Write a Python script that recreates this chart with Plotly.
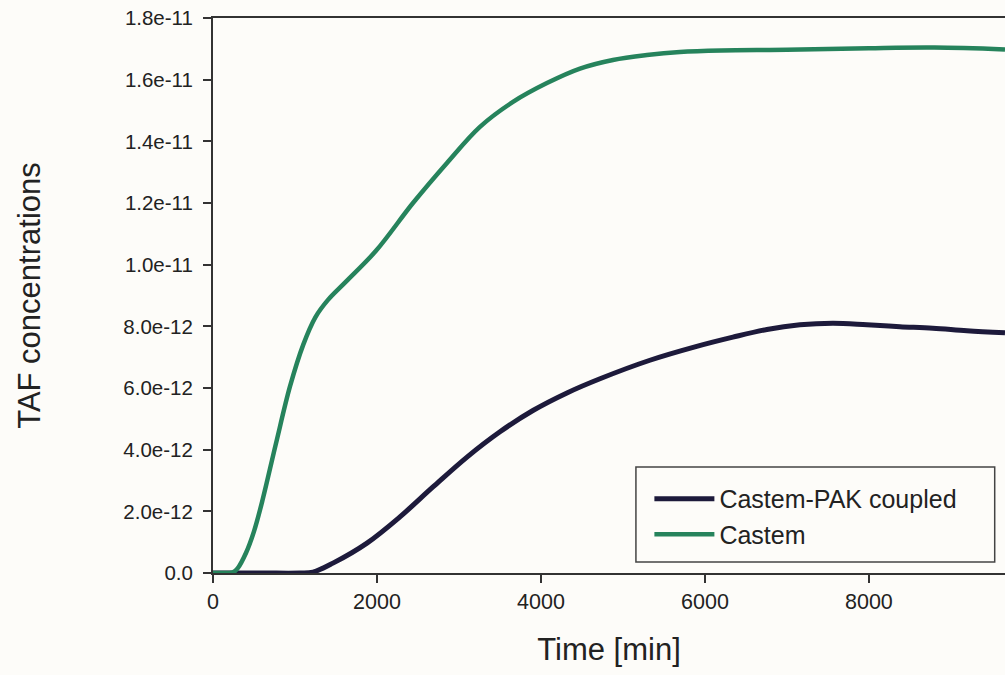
import plotly.graph_objects as go

# Castem (green) curve
castem_t = [0, 180, 244, 300, 402, 500, 598, 768, 939, 1100, 1250, 1400, 1622, 1988, 2439,
            2854, 3256, 3659, 4073, 4476, 4878, 5293, 5695, 6200, 7000, 8000, 8800, 9660]
castem_v = [0, 0, 0.02e-12, 0.15e-12, 0.65e-12, 1.35e-12, 2.3e-12, 4.2e-12, 6.05e-12,
            7.4e-12, 8.3e-12, 8.85e-12, 9.45e-12, 10.45e-12, 12.0e-12, 13.3e-12,
            14.47e-12, 15.28e-12, 15.89e-12, 16.36e-12, 16.64e-12, 16.80e-12, 16.90e-12,
            16.95e-12, 16.97e-12, 17.02e-12, 17.04e-12, 16.98e-12]

# Castem-PAK coupled (dark) curve
coupled_t = [0, 600, 1061, 1220, 1463, 1878, 2280, 2683, 3098, 3500, 3902, 4317, 4720,
             5329, 5900, 6341, 6756, 7159, 7561, 7976, 8378, 8780, 9195, 9660]
coupled_v = [0, 0, 0, 0.03e-12, 0.32e-12, 0.97e-12, 1.82e-12, 2.79e-12, 3.76e-12, 4.58e-12,
             5.27e-12, 5.84e-12, 6.30e-12, 6.90e-12, 7.35e-12, 7.65e-12, 7.90e-12, 8.05e-12,
             8.10e-12, 8.05e-12, 7.99e-12, 7.94e-12, 7.86e-12, 7.79e-12]

y_tickvals = [0, 2e-12, 4e-12, 6e-12, 8e-12, 1.0e-11, 1.2e-11, 1.4e-11, 1.6e-11, 1.8e-11]
y_ticktext = ["0.0", "2.0e-12", "4.0e-12", "6.0e-12", "8.0e-12", "1.0e-11", "1.2e-11",
              "1.4e-11", "1.6e-11", "1.8e-11"]
x_tickvals = [0, 2000, 4000, 6000, 8000]

FONT = "Liberation Sans, Arial, sans-serif"
AXIS_COLOR = "#333333"
TEXT = "#222222"
BG = "#fdfcf9"

fig = go.Figure()
fig.add_trace(go.Scatter(x=coupled_t, y=coupled_v, mode="lines", name="Castem-PAK coupled",
                         line=dict(color="#1d1a3b", width=5, shape="spline", smoothing=1.0)))
fig.add_trace(go.Scatter(x=castem_t, y=castem_v, mode="lines", name="Castem",
                         line=dict(color="#26835c", width=4.5, shape="spline", smoothing=1.0)))

# legend frame
fig.add_shape(type="rect", xref="paper", yref="paper",
              x0=0.534, x1=0.987, y0=0.020, y1=0.191,
              line=dict(color="#444444", width=1.5), fillcolor=BG, layer="above")

fig.update_layout(
    width=1005, height=675,
    margin=dict(l=213, r=0, t=18, b=102, autoexpand=False),
    paper_bgcolor=BG, plot_bgcolor=BG,
    font=dict(family=FONT, color=TEXT),
    showlegend=True,
    legend=dict(x=0.551, y=0.175, xanchor="left", yanchor="top",
                bgcolor="rgba(0,0,0,0)", borderwidth=0,
                font=dict(size=25, family=FONT, color=TEXT),
                itemwidth=60, tracegroupgap=0),
    xaxis=dict(range=[0, 9660], tickvals=x_tickvals, ticks="outside", ticklen=8,
               tickwidth=1.5, tickcolor=AXIS_COLOR, showline=True, linecolor=AXIS_COLOR,
               linewidth=2, mirror=True, showgrid=False, zeroline=False,
               tickfont=dict(size=21.5, family=FONT, color=TEXT),
               title=dict(text="Time [min]", font=dict(size=31, family=FONT, color=TEXT),
                          standoff=26),
               automargin=False),
    yaxis=dict(range=[0, 1.8e-11], tickvals=y_tickvals, ticktext=y_ticktext,
               ticks="outside", ticklen=8, tickwidth=1.5, tickcolor=AXIS_COLOR,
               showline=True, linecolor=AXIS_COLOR, linewidth=2, showgrid=False,
               zeroline=False, ticklabelstandoff=6,
               tickfont=dict(size=20.5, family=FONT, color=TEXT),
               title=dict(text="TAF concentrations",
                          font=dict(size=31, family=FONT, color=TEXT), standoff=74),
               automargin=False),
)

fig.write_html("out.html")
